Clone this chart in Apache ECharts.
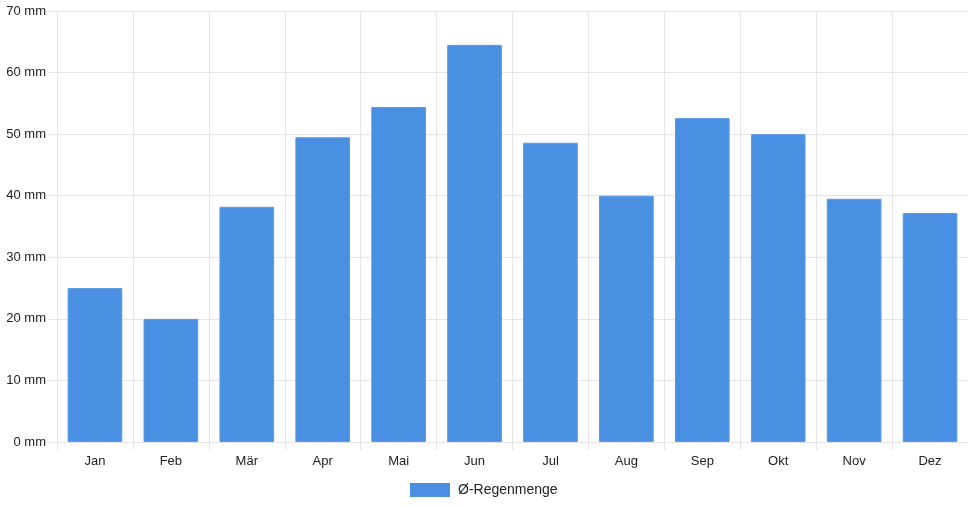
<!DOCTYPE html>
<html lang="de">
<head>
    <meta charset="utf-8">
    <title>Regenmenge</title>
    <style type="text/css">
        html, body { margin: 0; padding: 0; background: #fff; }
        #page { width: 968px; height: 508px; }
    </style>
</head>
<body>
<div id="page"></div>
<script src="https://cdn.jsdelivr.net/npm/echarts@6/dist/echarts.min.js"></script>
<script>
    var months = ["Jan", "Feb", "Mär", "Apr", "Mai", "Jun", "Jul", "Aug", "Sep", "Okt", "Nov", "Dez"];
    var rain = [25.0, 20.0, 38.2, 49.5, 54.4, 64.5, 48.6, 40.0, 52.6, 50.0, 39.5, 37.2];
    var seriesName = "Ø-Regenmenge";

    (function () {
        var gridColor = "#e5e5e5";
        var textColor = "#222";
        var chart = echarts.init(document.getElementById("page"));

        var option = {
            animation: false,
            textStyle: {fontFamily: "Liberation Sans, Arial, sans-serif"},
            grid: {left: 57, right: 0, top: 11, bottom: 66, containLabel: false},
            legend: {
                top: 483,
                left: 410,
                padding: 0,
                itemWidth: 40,
                itemHeight: 14,
                icon: "rect",
                itemStyle: {borderWidth: 0},
                textStyle: {color: textColor, fontSize: 14, padding: [0, 0, 0, 3]},
                data: [seriesName]
            },
            xAxis: {
                type: "category",
                data: months,
                boundaryGap: true,
                axisLine: {show: true, lineStyle: {color: gridColor}},
                axisTick: {show: true, length: 8, lineStyle: {color: gridColor}},
                axisLabel: {color: textColor, fontSize: 13, margin: 13},
                splitLine: {show: true, lineStyle: {color: gridColor}}
            },
            yAxis: {
                type: "value",
                min: 0,
                max: 70,
                interval: 10,
                axisLine: {show: true, lineStyle: {color: gridColor}},
                axisTick: {show: true, length: 8, lineStyle: {color: gridColor}},
                axisLabel: {color: textColor, fontSize: 13, margin: 11, formatter: "{value} mm"},
                splitLine: {show: true, lineStyle: {color: gridColor}}
            },
            series: [{
                name: seriesName,
                type: "bar",
                data: rain,
                barWidth: "72%",
                itemStyle: {color: "#4a90e2", borderColor: "#5a9ae6", borderWidth: 1}
            }]
        };
        chart.setOption(option);
    })();
</script>
</body>
</html>
